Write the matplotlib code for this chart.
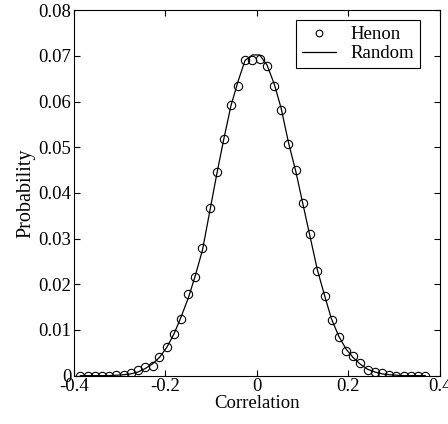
import numpy as np
import matplotlib
matplotlib.use('Agg')
import matplotlib.pyplot as plt

plt.rcParams['font.family'] = ['Liberation Serif', 'DejaVu Serif']
plt.rcParams['font.size'] = 13.5

# bin centres
corr = [-0.386, -0.370, -0.355, -0.339, -0.323, -0.307, -0.291, -0.275, -0.260, -0.245,
        -0.228, -0.213, -0.197, -0.181, -0.166, -0.150, -0.135, -0.119, -0.103,
        -0.088, -0.073, -0.057, -0.041, -0.026, -0.010, 0.006, 0.022, 0.038, 0.053,
        0.069, 0.085, 0.100,
        0.116, 0.132, 0.148, 0.163, 0.179, 0.195, 0.210, 0.226, 0.242, 0.258, 0.273,
        0.289, 0.305, 0.321, 0.336, 0.352, 0.368]
henon = [0, 0, 0, 0, 0, 0.0001, 0.0002, 0.0006, 0.0012, 0.0018,
         0.0022, 0.0040, 0.0063, 0.0092, 0.0125, 0.0179, 0.0216, 0.0279, 0.0366,
         0.0445, 0.0517, 0.0593, 0.0633, 0.0692, 0.0692, 0.0694, 0.0678, 0.0633, 0.0582,
         0.0506, 0.0450, 0.0378,
         0.0310, 0.0230, 0.0174, 0.0122, 0.0084, 0.0055, 0.0043, 0.0028, 0.0012, 0.0007,
         0.0005, 0.0001, 0, 0, 0, 0, 0]
random_ = [0, 0, 0, 0, 0, 0.0001, 0.0002, 0.0004, 0.0008, 0.0015,
           0.0026, 0.0040, 0.0062, 0.0092, 0.0128, 0.0170, 0.0218, 0.0275, 0.0360,
           0.0440, 0.0515, 0.0590, 0.0645, 0.0690, 0.0702, 0.0702, 0.0680, 0.0638, 0.0585,
           0.0510, 0.0447, 0.0378,
           0.0305, 0.0232, 0.0175, 0.0124, 0.0086, 0.0058, 0.0040, 0.0025, 0.0014, 0.0008,
           0.0004, 0.0002, 0.0001, 0, 0, 0, 0]

fig = plt.figure(figsize=(4.48, 4.24), dpi=100)
ax = fig.add_axes([0.165, 0.114, 0.817, 0.862])

ax.plot(corr, henon, 'o', mfc='none', mec='black', ms=6, mew=0.8, label='Henon')
ax.plot(corr, random_, '-', color='black', lw=0.9, label='Random')

ax.set_xlim(-0.4, 0.4)
ax.set_ylim(0, 0.08)
ax.set_xticks([-0.4, -0.2, 0, 0.2, 0.4])
ax.set_xticklabels(['-0.4', '-0.2', '0', '0.2', '0.4'])
ax.set_yticks(np.arange(0, 0.081, 0.01))
ax.set_yticklabels(['0', '0.01', '0.02', '0.03', '0.04', '0.05', '0.06', '0.07', '0.08'])
ax.tick_params(direction='in', top=True, right=True, length=4, pad=2)
ax.set_xlabel('Correlation', labelpad=0)
ax.set_ylabel('Probability', labelpad=2, fontsize=14.5)

leg = ax.legend(loc='upper right', bbox_to_anchor=(0.945, 0.972), fancybox=False,
                edgecolor='black', framealpha=1, borderpad=0.3, handlelength=1.8,
                labelspacing=0.1, borderaxespad=0, markerscale=0.8)
leg.get_frame().set_linewidth(0.8)

fig.savefig('out.png', dpi=100)
